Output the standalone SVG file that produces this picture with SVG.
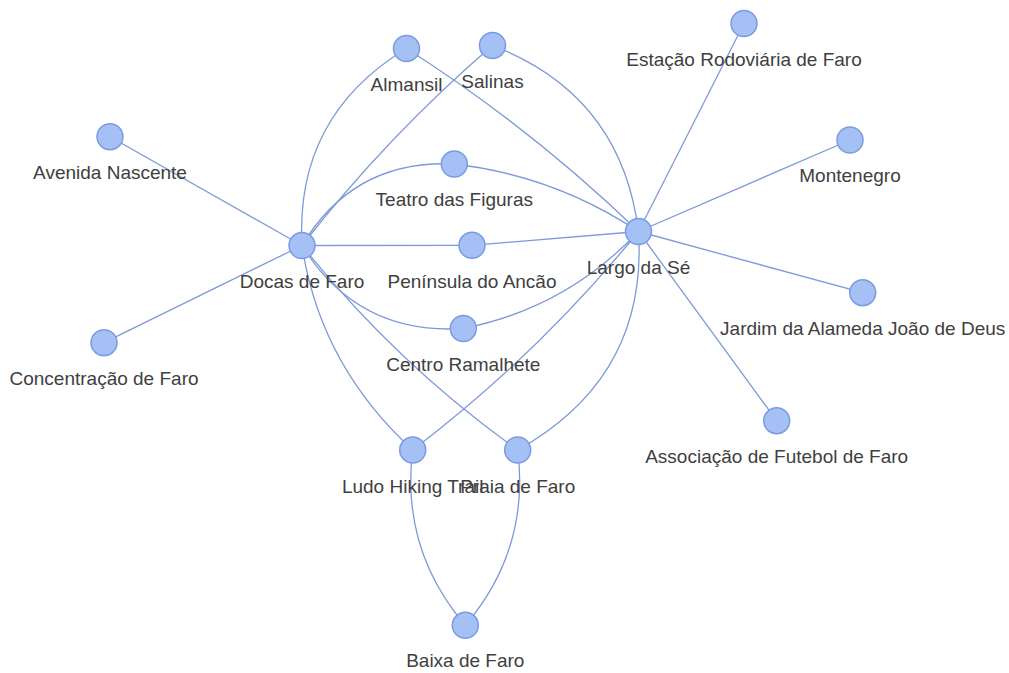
<svg xmlns="http://www.w3.org/2000/svg" width="1009" height="673" viewBox="0 0 1009 673">
<style>
.e{fill:none;stroke:#7d9ad8;stroke-width:1.3}
.n circle{fill:#a4c0f5;stroke:#7b9be0;stroke-width:1.5}
.n text{font-family:"Liberation Sans",Arial,sans-serif;font-size:19px;fill:#404040;text-anchor:middle}
</style>
<rect width="1009" height="673" fill="#fff"/>
<g id="edges">
<path class="e" d="M302,245.5 L110,136.7"/>
<path class="e" d="M302,245.5 L104,342.7"/>
<path class="e" d="M302,245.5 Q295,116 406.5,48.5"/>
<path class="e" d="M302,245.5 Q387.3,136 492.5,45.5"/>
<path class="e" d="M302,245.5 Q353.7,159.1 454.3,164"/>
<path class="e" d="M302,245.5 L472,245.3"/>
<path class="e" d="M302,245.5 Q357.8,335.4 463.3,328.5"/>
<path class="e" d="M302,245.5 Q320,365 412.7,450"/>
<path class="e" d="M302,245.5 Q395.5,362.9 517.7,450"/>
<path class="e" d="M406.5,48.5 Q531.7,128.4 638.5,231.5"/>
<path class="e" d="M492.5,45.5 Q621.3,94.7 638.5,231.5"/>
<path class="e" d="M454.3,164 Q554.5,175.7 638.5,231.5"/>
<path class="e" d="M472,245.3 L638.5,231.5"/>
<path class="e" d="M463.3,328.5 Q566.4,308 638.5,231.5"/>
<path class="e" d="M412.7,450 Q538.7,354.3 638.5,231.5"/>
<path class="e" d="M517.7,450 Q648,377 638.5,231.5"/>
<path class="e" d="M638.5,231.5 L744,23.5"/>
<path class="e" d="M638.5,231.5 L850,140"/>
<path class="e" d="M638.5,231.5 L862.7,292.7"/>
<path class="e" d="M638.5,231.5 L776.7,420.7"/>
<path class="e" d="M412.7,450 Q400.4,549.3 465.3,625.3"/>
<path class="e" d="M517.7,450 Q530.1,549.2 465.3,625.3"/>
</g>
<g id="n-almansil" class="n"><circle cx="406.5" cy="48.5" r="13"/><text x="406.5" y="91">Almansil</text></g>
<g id="n-salinas" class="n"><circle cx="492.5" cy="45.5" r="13"/><text x="492.5" y="88">Salinas</text></g>
<g id="n-estacao" class="n"><circle cx="744" cy="23.5" r="13"/><text x="744" y="66">Estação Rodoviária de Faro</text></g>
<g id="n-avenida" class="n"><circle cx="110" cy="136.7" r="13"/><text x="110" y="179">Avenida Nascente</text></g>
<g id="n-montenegro" class="n"><circle cx="850" cy="140" r="13"/><text x="850" y="182">Montenegro</text></g>
<g id="n-teatro" class="n"><circle cx="454.3" cy="164" r="13"/><text x="454.3" y="206">Teatro das Figuras</text></g>
<g id="n-docas" class="n"><circle cx="302" cy="245.5" r="13"/><text x="302" y="288">Docas de Faro</text></g>
<g id="n-peninsula" class="n"><circle cx="472" cy="245.3" r="13"/><text x="472" y="288">Península do Ancão</text></g>
<g id="n-largo" class="n"><circle cx="638.5" cy="231.5" r="13"/><text x="638.5" y="274">Largo da Sé</text></g>
<g id="n-jardim" class="n"><circle cx="862.7" cy="292.7" r="13"/><text x="862.7" y="335">Jardim da Alameda João de Deus</text></g>
<g id="n-centro" class="n"><circle cx="463.3" cy="328.5" r="13"/><text x="463.3" y="371">Centro Ramalhete</text></g>
<g id="n-concentracao" class="n"><circle cx="104" cy="342.7" r="13"/><text x="104" y="385">Concentração de Faro</text></g>
<g id="n-associacao" class="n"><circle cx="776.7" cy="420.7" r="13"/><text x="776.7" y="463">Associação de Futebol de Faro</text></g>
<g id="n-ludo" class="n"><circle cx="412.7" cy="450" r="13"/><text x="412.7" y="493">Ludo Hiking Trail</text></g>
<g id="n-praia" class="n"><circle cx="517.7" cy="450" r="13"/><text x="517.7" y="493">Praia de Faro</text></g>
<g id="n-baixa" class="n"><circle cx="465.3" cy="625.3" r="13"/><text x="465.3" y="667">Baixa de Faro</text></g>
</svg>
